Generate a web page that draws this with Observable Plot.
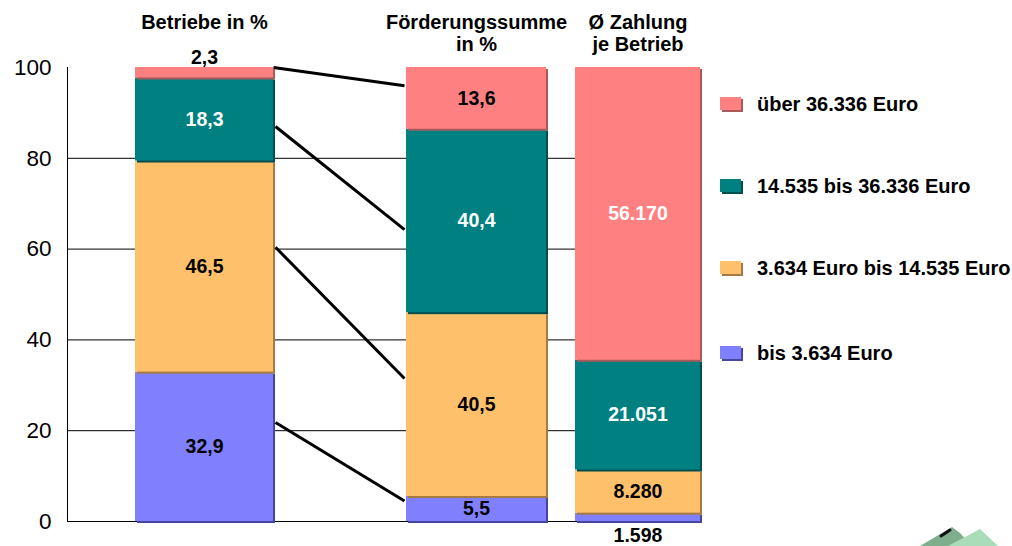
<!DOCTYPE html>
<html><head><meta charset="utf-8">
<script src="https://cdn.jsdelivr.net/npm/d3@7"></script>
<script src="https://cdn.jsdelivr.net/npm/@observablehq/plot@0.6"></script>
<style>
html,body{margin:0;padding:0;background:#fff;}
#wrap{position:relative;width:1012px;height:546px;overflow:hidden;font-family:"Liberation Sans",Arial,sans-serif;}
.leg{position:absolute;left:720px;height:24px;display:flex;align-items:center;font-weight:bold;font-size:20px;color:#000;white-space:nowrap;}
.sw{position:relative;width:23px;height:15px;margin-right:14px;}
.sw .sh{position:absolute;left:2px;top:2px;width:21px;height:13px;}
.sw .mn{position:absolute;left:0;top:0;width:21px;height:13px;}
#logo{position:absolute;left:900px;top:515px;}
</style></head>
<body><div id="wrap"></div>
<script>
// ---- data ----
const classes = ["bis 3.634 Euro", "3.634 Euro bis 14.535 Euro", "14.535 bis 36.336 Euro", "über 36.336 Euro"];
const colors = ["#8080FF", "#FFC06B", "#008080", "#FF8080"];
const shadowColors = ["#4646A0", "#A57A3E", "#004E4E", "#A85A5A"];
const barKeys = ["betriebe", "foerderung", "zahlung"];
const barTitles = ["Betriebe in %", "Förderungssumme\nin %", "Ø Zahlung\nje Betrieb"];
const betriebe = [32.9, 46.5, 18.3, 2.3];     // % of farms
const foerderung = [5.5, 40.5, 40.4, 13.6];   // % of funding
const zahlung = [1598, 8280, 21051, 56170];   // Euro per farm
const yTicks = [0, 20, 40, 60, 80, 100];
const connectorFrom = [100, 87, 60.4, 21.8];  // y at Betriebe bar
const connectorTo = [96, 64.3, 31.5, 4.5];    // y at Förderung bar

// ---- layout (pixel x positions of columns) ----
const layout = {
  betriebe: {x1: 135, x2: 273},
  foerderung: {x1: 406, x2: 546},
  zahlung: {x1: 575, x2: 700}
};
const axisX = 67, gridEnd = 700;

const fmtPct = v => v.toLocaleString("de-DE", {minimumFractionDigits: 1, maximumFractionDigits: 1});
const fmtEur = v => v.toLocaleString("de-DE");

const seriesByBar = {betriebe, foerderung, zahlung};
const segments = [];
barKeys.forEach(key => {
  const vals = seriesByBar[key];
  const total = d3.sum(vals);
  let acc = 0;
  vals.forEach((v, i) => {
    const h = v / total * 100;
    segments.push({
      bar: key, i, cls: classes[i], value: v,
      x1: layout[key].x1, x2: layout[key].x2,
      y1: acc, y2: acc + h,
      label: key === "zahlung" ? fmtEur(v) : fmtPct(v)
    });
    acc += h;
  });
});

const labels = segments.map(s => {
  const h = s.y2 - s.y1;
  const small = h < 5;
  let y, pos = "in";
  if (!small) { y = (s.y1 + s.y2) / 2; }
  else if (s.i === classes.length - 1) { y = s.y2; pos = "above"; }
  else { y = s.y1; pos = "below"; }
  const white = !small && (s.i === 2 || (s.bar === "zahlung" && s.i === 3));
  return {x: (s.x1 + s.x2) / 2, y, pos, text: s.label, fill: white ? "#fff" : "#000"};
});

const connectors = connectorFrom.map((f, k) => ({
  x1: layout.betriebe.x2 + (k === 0 ? 0 : 2), y1: f,
  x2: layout.foerderung.x1 - 2, y2: connectorTo[k]
}));

const headers = barKeys.map((k, j) => ({x: (layout[k].x1 + layout[k].x2) / 2, text: barTitles[j]}));

const segMarks = [];
classes.forEach((c, i) => {
  const segs = segments.filter(s => s.i === i);
  segMarks.push(Plot.rect(segs, {x1: "x1", x2: "x2", y1: "y1", y2: "y2", fill: shadowColors[i], dx: 2, dy: 2}));
  segMarks.push(Plot.rect(segs, {x1: "x1", x2: "x2", y1: "y1", y2: "y2", fill: colors[i]}));
});

const labelOpts = {x: "x", y: "y", text: "text", fill: "fill", fontSize: 19.5, fontWeight: "bold"};

const chart = Plot.plot({
  width: 1012, height: 546,
  marginTop: 67, marginBottom: 25, marginLeft: axisX, marginRight: 0,
  x: {domain: [axisX, 1012], axis: null},
  y: {domain: [0, 100], axis: null},
  style: {fontFamily: "'Liberation Sans', Arial, sans-serif", background: "#fff", overflow: "visible"},
  marks: [
    Plot.ruleY(yTicks.filter(t => t < 100), {x1: axisX, x2: gridEnd, stroke: "#000", strokeWidth: 1, strokeOpacity: 1}),
    Plot.ruleX([axisX], {y1: 0, y2: 100, stroke: "#000", strokeWidth: 1}),
    Plot.text(yTicks, {x: axisX, y: d => d, text: d => String(d), textAnchor: "end", dx: -16, fontSize: 22.5, fill: "#000"}),
    ...segMarks,
    Plot.link(connectors, {x1: "x1", y1: "y1", x2: "x2", y2: "y2", stroke: "#000", strokeWidth: 3}),
    Plot.text(labels.filter(d => d.pos === "in"), labelOpts),
    Plot.text(labels.filter(d => d.pos === "above"), {...labelOpts, dy: -10}),
    Plot.text(labels.filter(d => d.pos === "below"), {...labelOpts, dy: 14}),
    Plot.text(headers, {x: "x", text: "text", frameAnchor: "top", lineAnchor: "top", dy: -54, fontSize: 20, fontWeight: "bold", lineHeight: 1.1, fill: "#000"})
  ]
});
const wrap = document.getElementById("wrap");
wrap.appendChild(chart);

// legend
const legendY = [92, 174, 256, 341];
[3, 2, 1, 0].forEach((i, k) => {
  const el = document.createElement("div");
  el.className = "leg";
  el.style.top = legendY[k] + "px";
  el.innerHTML = `<div class="sw"><div class="sh" style="background:${shadowColors[i]}"></div><div class="mn" style="background:${colors[i]}"></div></div><span>${classes[i]}</span>`;
  wrap.appendChild(el);
});

// logo fragment (bottom right)
const logo = document.createElementNS("http://www.w3.org/2000/svg", "svg");
logo.setAttribute("id", "logo"); logo.setAttribute("width", "112"); logo.setAttribute("height", "31");
logo.innerHTML = `<polygon points="20,31 52,12 60,18 72,31" fill="#7fae8c"/>
<polygon points="48,31 80,14 98,31" fill="#a9dcb8"/>
<line x1="41" y1="21" x2="50" y2="15" stroke="#111" stroke-width="3" stroke-linecap="round"/>`;
wrap.appendChild(logo);
</script>
</body></html>
